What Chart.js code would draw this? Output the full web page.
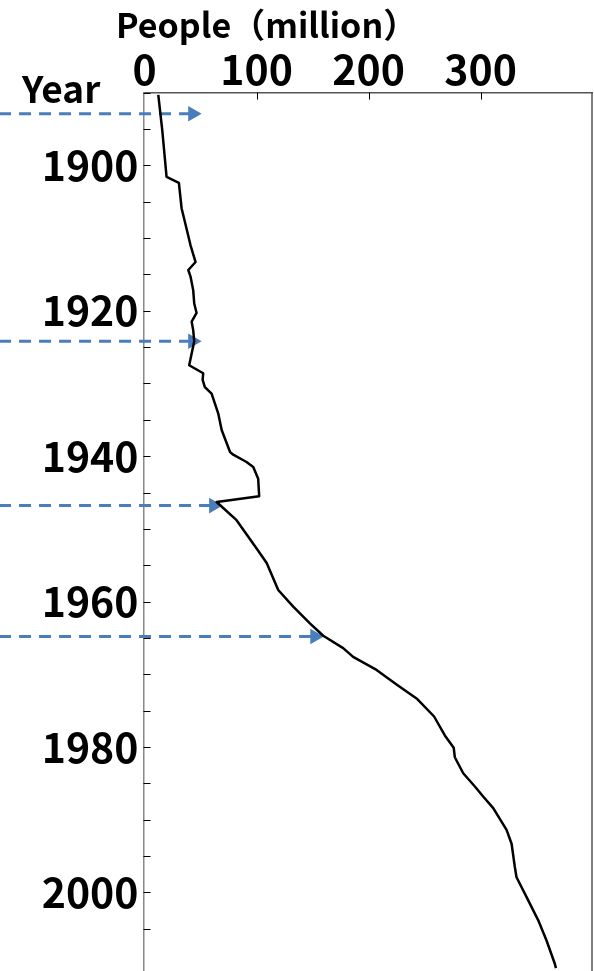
<!DOCTYPE html>
<html>
<head>
<meta charset="utf-8">
<script src="https://cdn.jsdelivr.net/npm/chart.js@4.4.1/dist/chart.umd.min.js"></script>
<style>
    html, body { margin: 0; padding: 0; background: #fff; overflow: hidden; }
    #wrap { width: 594px; height: 971px; }
</style>
</head>
<body>
<div id="wrap"><canvas id="peopleChart" width="594" height="971"></canvas></div>
<script>
// values (year, people in millions)
var years = [1890.3, 1895.1, 1901.6, 1902.4, 1905.9, 1907.8, 1911.0, 1913.3, 1914.4, 1915.3,
    1917.2, 1919.0, 1920.3, 1921.5, 1922.7, 1924.2, 1927.5, 1928.6, 1929.5, 1930.5,
    1931.4, 1934.1, 1936.4, 1939.4, 1939.8, 1940.8, 1941.5, 1943.1, 1945.5, 1946.3,
    1948.8, 1952.7, 1954.7, 1958.4, 1960.7, 1963.0, 1964.7, 1966.4, 1967.6, 1969.4,
    1971.5, 1973.4, 1975.8, 1978.4, 1980.1, 1981.4, 1983.6, 1985.5, 1986.8, 1988.4,
    1991.4, 1993.3, 1996.5, 1997.9, 2000.6, 2003.8, 2006.6, 2009.8, 2010.4];
var people = [12.2, 15.7, 19.6, 30.6, 33.0, 36.0, 41.0, 45.5, 39.0, 41.0,
    43.4, 44.3, 46.4, 42.0, 43.4, 44.3, 39.8, 52.3, 51.8, 53.8,
    59.8, 65.7, 68.8, 76.2, 79.1, 91.0, 97.0, 101.4, 102.3, 64.3,
    82.1, 100.0, 109.0, 119.3, 132.7, 147.6, 159.5, 177.3, 186.2, 207.1,
    225.9, 243.5, 258.5, 268.1, 276.0, 277.0, 284.5, 295.3, 302.3, 311.3,
    323.2, 327.7, 330.6, 332.1, 341.0, 351.4, 358.9, 366.3, 367.3];

// dashed arrows: year and where the arrow head sits
var arrowYears = [1892.9, 1924.2, 1946.8, 1964.8];
var arrowHeads = [42.9, 42.9, 61.6, 152.0];
var arrowStart = -130;

var xTickLabels = [0, 100, 200, 300];
var yTickLabels = [1900, 1920, 1940, 1960, 1980, 2000];

var fonte = "'Noto Sans CJK JP', 'Noto Sans', sans-serif";
var azul = '#4a7ebb';

var datasets = [{
    data: years.map(function (a, i) { return { x: people[i], y: a }; }),
    showLine: true,
    borderColor: '#000',
    borderWidth: 2.5,
    borderJoinStyle: 'round',
    pointRadius: 0
}];

arrowYears.forEach(function (a, i) {
    datasets.push({
        data: [{ x: arrowStart, y: a }, { x: arrowHeads[i], y: a }],
        showLine: true,
        clip: false,
        borderColor: azul,
        borderWidth: 3,
        borderDash: [12, 8],
        pointRadius: [0, 9],
        pointStyle: 'triangle',
        pointRotation: 90,
        pointBackgroundColor: azul,
        pointBorderWidth: 0
    });
});

// frame on the right, ticks pointing inward, the two axis titles
var extras = {
    id: 'extras',
    afterDraw: function (chart) {
        var ctx = chart.ctx, a = chart.chartArea;
        var sx = chart.scales.x, sy = chart.scales.y;
        ctx.save();
        ctx.strokeStyle = '#555';
        ctx.lineWidth = 1.5;
        ctx.beginPath();
        ctx.moveTo(a.right, a.top);
        ctx.lineTo(a.right, a.bottom);
        ctx.stroke();

        ctx.strokeStyle = '#000';
        ctx.lineWidth = 1;
        ctx.beginPath();
        sy.ticks.forEach(function (t) {
            if (t.value % 5 !== 0) return;
            var y = Math.round(sy.getPixelForValue(t.value)) + 0.5;
            ctx.moveTo(a.left, y);
            ctx.lineTo(a.left + 7, y);
        });
        sx.ticks.forEach(function (t) {
            if (t.value <= 0) return;
            var x = Math.round(sx.getPixelForValue(t.value)) + 0.5;
            ctx.moveTo(x, a.top);
            ctx.lineTo(x, a.top + 7);
        });
        ctx.stroke();

        ctx.fillStyle = '#000';
        ctx.textBaseline = 'alphabetic';
        ctx.font = 'bold 34px ' + fonte;
        ctx.fillText('People（million）', 116, 38);
        ctx.font = 'bold 37px ' + fonte;
        ctx.fillText('Year', 22, 103);
        ctx.restore();
    }
};

var grafico = new Chart(document.getElementById('peopleChart').getContext('2d'), {
    type: 'scatter',
    data: { datasets: datasets },
    options: {
        responsive: false,
        animation: false,
        devicePixelRatio: 1,
        events: [],
        layout: { autoPadding: false, padding: { left: 0, right: 2, top: 0, bottom: 0 } },
        plugins: { legend: { display: false }, tooltip: { enabled: false } },
        scales: {
            x: {
                type: 'linear',
                position: 'top',
                min: -1,
                max: 399.5,
                afterBuildTicks: function (s) {
                    s.ticks = xTickLabels.map(function (v) { return { value: v }; });
                },
                afterFit: function (s) {
                    s.height = 92.6;
                    s.paddingLeft = 0;
                    s.paddingRight = 0;
                },
                ticks: {
                    color: '#000',
                    padding: 3,
                    maxRotation: 0,
                    autoSkip: false,
                    font: { family: fonte, size: 41, weight: 'bold', lineHeight: 1 }
                },
                grid: { drawOnChartArea: false, drawTicks: false },
                border: { display: true, color: '#555', width: 1.5 }
            },
            y: {
                type: 'linear',
                reverse: true,
                min: 1890,
                max: 2010.8,
                afterFit: function (s) {
                    s.width = 143.5;
                    s.paddingTop = 0;
                    s.paddingBottom = 0;
                },
                ticks: {
                    stepSize: 5,
                    autoSkip: false,
                    color: '#000',
                    padding: 5,
                    font: { family: fonte, size: 41, weight: 'bold', lineHeight: 1 },
                    callback: function (v) { return yTickLabels.indexOf(v) >= 0 ? String(v) : ''; }
                },
                grid: { drawOnChartArea: false, drawTicks: false },
                border: { display: true, color: '#888', width: 1.5 }
            }
        }
    },
    plugins: [extras]
});
</script>
</body>
</html>
